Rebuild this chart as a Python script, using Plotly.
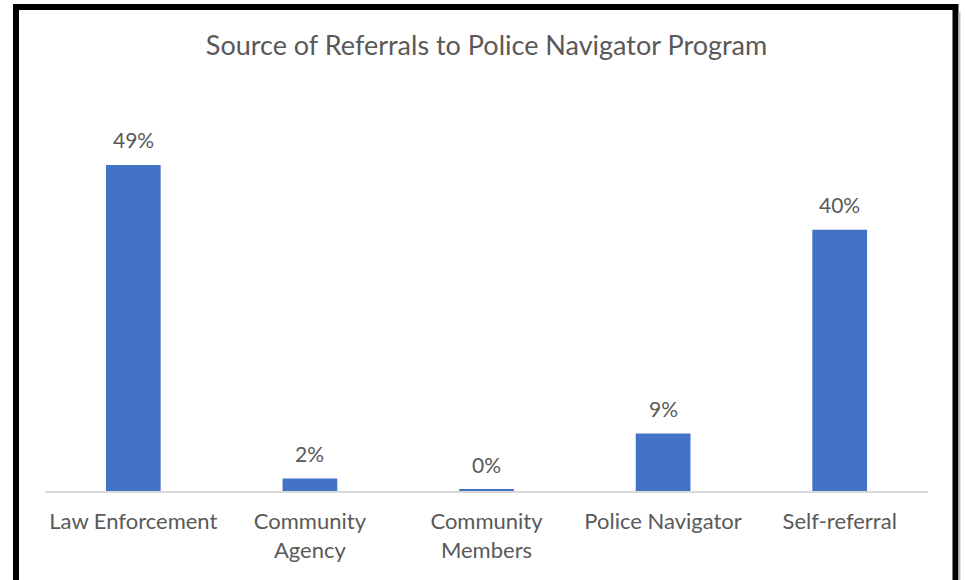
import plotly.graph_objects as go

categories = ["Law Enforcement", "Community<br>Agency", "Community<br>Members", "Police Navigator", "Self-referral"]
values = [49.4, 1.9, 0.2, 8.7, 39.6]
labels = ["49%", "2%", "0%", "9%", "40%"]
title_text = "Source of Referrals to Police Navigator Program"

W, H = 965, 580
L, R, T, B = 45, 37, 110, 89
pw, ph = W - L - R, H - T - B

def px_x(x):
    return (x - L) / pw

def px_y(y):
    return (H - B - y) / ph

FONT = "Lato"
GREY = "#595959"

fig = go.Figure(go.Bar(
    x=categories, y=values,
    marker=dict(color="#4472C4", line=dict(width=0)),
    hoverinfo="skip",
))

fig.update_layout(
    width=W, height=H,
    margin=dict(l=L, r=R, t=T, b=B),
    paper_bgcolor="white", plot_bgcolor="white",
    bargap=0.69,
    showlegend=False,
    font=dict(family=FONT, color=GREY, size=22),
    title=dict(text=title_text, x=0.5, xref="paper", xanchor="center",
               y=1 - 46 / H, yref="container", yanchor="middle",
               font=dict(family=FONT, size=27, color=GREY)),
)
fig.update_xaxes(showline=True, linecolor="#d9d9d9", linewidth=2, ticks="",
                 tickfont=dict(family=FONT, size=22, color=GREY),
                 ticklabelstandoff=10, fixedrange=True)
fig.update_yaxes(range=[0, ph / 6.6], visible=False, showgrid=False, zeroline=False)

for c, v, t in zip(categories, values, labels):
    fig.add_annotation(x=c, y=v, text=t, showarrow=False, yanchor="middle",
                       yshift=25, font=dict(family=FONT, size=21, color=GREY))

# outer frame
fig.add_shape(type="rect", xref="paper", yref="paper",
              x0=px_x(16), x1=px_x(955.5), y0=px_y(7), y1=px_y(620),
              line=dict(color="black", width=6), fillcolor="rgba(0,0,0,0)", layer="above")
fig.add_shape(type="line", xref="paper", yref="paper",
              x0=px_x(959.5), x1=px_x(959.5), y0=px_y(12), y1=px_y(620),
              line=dict(color="#bfbfbf", width=2))

fig.write_html("out.html", config={"displayModeBar": False},
               post_script="document.body.style.margin='0';document.body.style.overflow='hidden';")
